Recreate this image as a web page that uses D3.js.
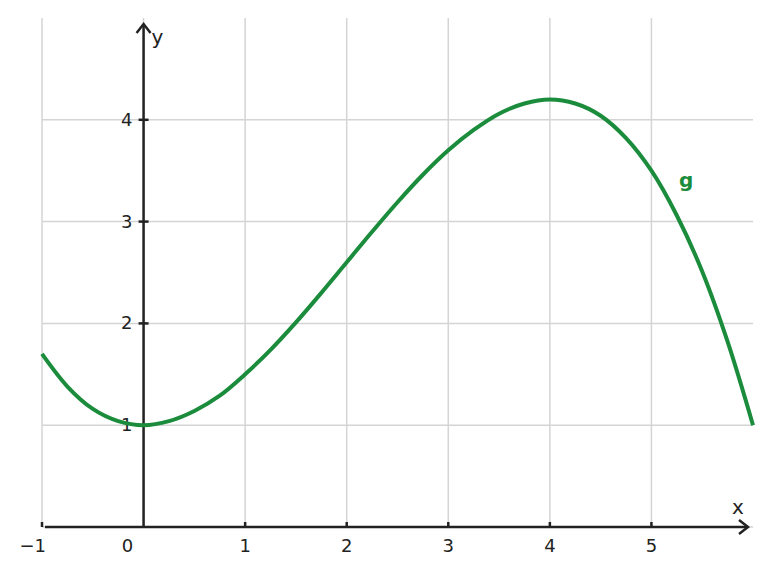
<!DOCTYPE html>
<html>
<head>
<meta charset="utf-8">
<script src="https://cdn.jsdelivr.net/npm/d3@7"></script>
<style>
  body { margin: 0; background: #fff; }
  text { font-family: "DejaVu Sans", sans-serif; fill: #222; }
</style>
</head>
<body>
<svg width="772" height="575"></svg>
<script>
// datos
const xTicks = [-1, 0, 1, 2, 3, 4, 5];
const yTicks = [1, 2, 3, 4];
const gX = [-1, -0.75, -0.5, -0.25, 0, 0.25, 0.5, 0.75, 1, 1.25, 1.5, 1.75, 2, 2.25, 2.5, 2.75, 3, 3.25, 3.5, 3.75, 4, 4.25, 4.5, 4.75, 5, 5.25, 5.5, 5.75, 6];
const gY = [1.70, 1.38, 1.16, 1.04, 1.00, 1.04, 1.14, 1.29, 1.50, 1.74, 2.01, 2.30, 2.60, 2.90, 3.19, 3.46, 3.70, 3.90, 4.06, 4.16, 4.20, 4.16, 4.04, 3.82, 3.50, 3.06, 2.51, 1.82, 1.00];

const svg = d3.select("svg");
const green = "#1a8c3c";

const x = d3.scaleLinear().domain([-1, 6]).range([42, 753]);
const y = d3.scaleLinear().domain([0, 5]).range([527, 18]);

// rejilla
const grid = svg.append("g").attr("stroke", "#d4d4d4").attr("stroke-width", 1.5);
grid.selectAll("line.v")
    .data(xTicks)
    .enter().append("line")
    .attr("x1", d => x(d)).attr("x2", d => x(d))
    .attr("y1", y(5)).attr("y2", y(0));
grid.selectAll("line.h")
    .data(yTicks)
    .enter().append("line")
    .attr("x1", x(-1)).attr("x2", x(6))
    .attr("y1", d => y(d)).attr("y2", d => y(d));
grid.append("line")
    .attr("x1", x(-1)).attr("x2", x(6))
    .attr("y1", y(0)).attr("y2", y(0));

// ejes
const axes = svg.append("g").attr("stroke", "#222").attr("stroke-width", 2.5).attr("fill", "none");
axes.append("line")
    .attr("x1", x(-1) + 3).attr("x2", x(6) - 5)
    .attr("y1", y(0)).attr("y2", y(0));
axes.append("path")
    .attr("d", `M${x(6) - 14},${y(0) - 7} L${x(6) - 5},${y(0)} L${x(6) - 14},${y(0) + 7}`);
axes.append("line")
    .attr("x1", x(0)).attr("x2", x(0))
    .attr("y1", y(0)).attr("y2", 24);
axes.append("path")
    .attr("d", `M${x(0) - 7},${33} L${x(0)},${24} L${x(0) + 7},${33}`);

// marcas
axes.selectAll("line.xt")
    .data(xTicks.filter(d => d !== 0))
    .enter().append("line")
    .attr("x1", d => x(d)).attr("x2", d => x(d))
    .attr("y1", y(0) - 5).attr("y2", y(0));
axes.selectAll("line.yt")
    .data(yTicks)
    .enter().append("line")
    .attr("x1", x(0) - 5).attr("x2", x(0) + 5)
    .attr("y1", d => y(d)).attr("y2", d => y(d));

// etiquetas
svg.append("g").selectAll("text")
    .data(xTicks)
    .enter().append("text")
    .attr("x", d => d === -1 ? x(d) + 4 : d === 0 ? x(d) - 16 : x(d))
    .attr("y", y(0) + 25)
    .attr("text-anchor", d => d === -1 ? "end" : "middle")
    .attr("font-size", 18)
    .text(d => d < 0 ? "\u2212" + Math.abs(d) : d);
svg.append("g").selectAll("text")
    .data(yTicks)
    .enter().append("text")
    .attr("x", x(0) - 11)
    .attr("y", d => y(d) + 6)
    .attr("text-anchor", "end")
    .attr("font-size", 18)
    .text(d => d);

svg.append("text").attr("x", x(0) + 8).attr("y", 44).attr("font-size", 20).text("y");
svg.append("text").attr("x", 732).attr("y", 514).attr("font-size", 20).text("x");

// curva g
const line = d3.line()
    .x((d, i) => x(gX[i]))
    .y(d => y(d))
    .curve(d3.curveCatmullRom);
svg.append("path")
    .datum(gY)
    .attr("fill", "none")
    .attr("stroke", green)
    .attr("stroke-width", 4)
    .attr("d", line);

svg.append("text")
    .attr("x", 679).attr("y", 187)
    .attr("font-size", 20)
    .attr("font-weight", "bold")
    .style("fill", green)
    .text("g");
</script>
</body>
</html>
